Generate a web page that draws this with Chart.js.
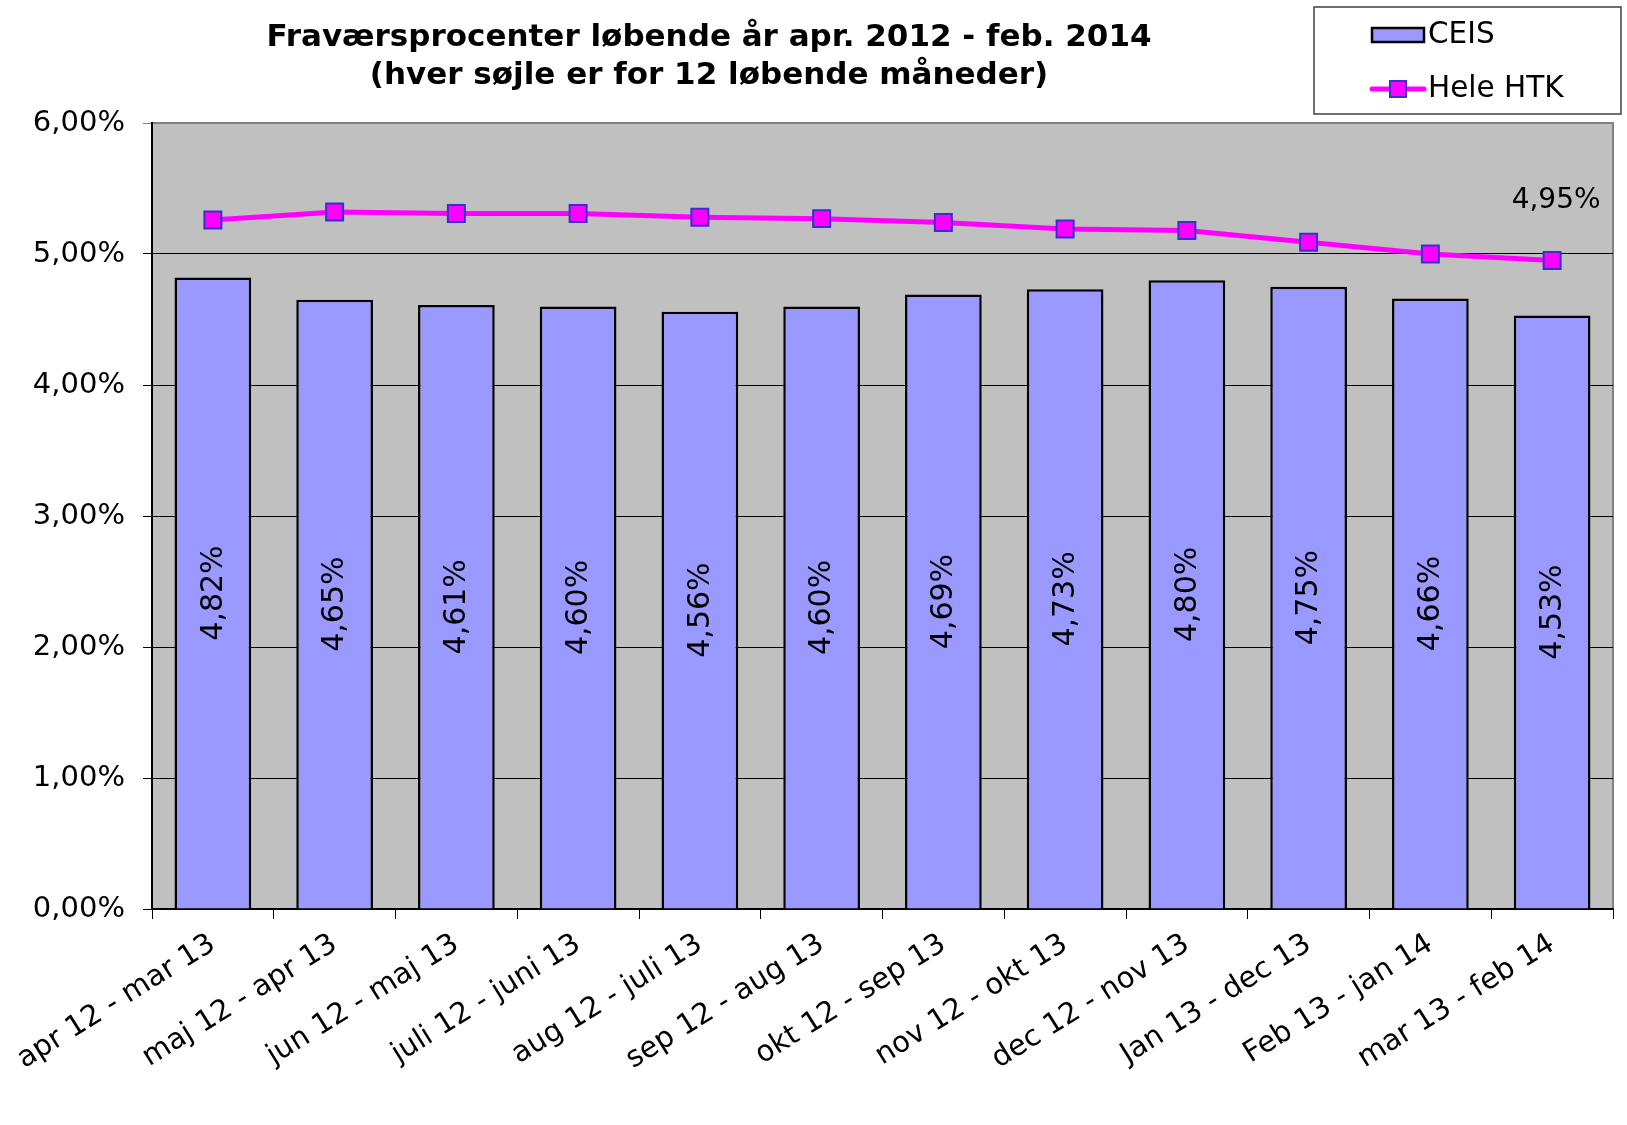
<!DOCTYPE html>
<html>
<head>
<meta charset="utf-8">
<script src="https://cdn.jsdelivr.net/npm/chart.js@4.4.1/dist/chart.umd.min.js"></script>
<style>
  html, body { margin: 0; padding: 0; background: #fff; }
  #wrap { width: 1627px; height: 1125px; }
</style>
</head>
<body>
<div id="wrap"><canvas id="chart" width="1627" height="1125"></canvas></div>
<script>
const periods = ['apr 12 - mar 13', 'maj 12 - apr 13', 'jun 12 - maj 13', 'juli 12 - juni 13',
  'aug 12 - juli 13', 'sep 12 - aug 13', 'okt 12 - sep 13', 'nov 12 - okt 13',
  'dec 12 - nov 13', 'Jan 13 - dec 13', 'Feb 13 - jan 14', 'mar 13 - feb 14'];
const ceis = [4.82, 4.65, 4.61, 4.60, 4.56, 4.60, 4.69, 4.73, 4.80, 4.75, 4.66, 4.53];
const heleHtk = [5.26, 5.32, 5.31, 5.31, 5.28, 5.27, 5.24, 5.19, 5.18, 5.09, 5.00, 4.95];
const titleLines = ['Fraværsprocenter løbende år apr. 2012 - feb. 2014', '(hver søjle er for 12 løbende måneder)'];
const FONT = '"DejaVu Sans", Verdana, sans-serif';

function pct(v) {
  return v.toFixed(2).replace('.', ',') + '%';
}

// grey plot area and frame
const plotBg = {
  id: 'plotBg',
  beforeDraw(chart) {
    const a = chart.chartArea, c = chart.ctx;
    c.save();
    c.fillStyle = '#c0c0c0';
    c.fillRect(a.left, a.top, a.right - a.left, a.bottom - a.top);
    c.strokeStyle = '#808080';
    c.lineWidth = 2;
    c.strokeRect(a.left, a.top, a.right - a.left, a.bottom - a.top);
    c.restore();
  }
};

// value labels, title and legend box
const extras = {
  id: 'extras',
  afterDatasetsDraw(chart) {
    const c = chart.ctx;
    c.save();
    c.fillStyle = '#000';
    c.font = '30px ' + FONT;
    c.textAlign = 'center';
    c.textBaseline = 'middle';
    chart.getDatasetMeta(0).data.forEach((bar, i) => {
      c.save();
      c.translate(bar.x + 1, (bar.y + bar.base) / 2);
      c.rotate(-Math.PI / 2);
      c.fillText(pct(ceis[i]), 0, 0);
      c.restore();
    });
    const pts = chart.getDatasetMeta(1).data;
    const last = pts[pts.length - 1];
    c.font = '28px ' + FONT;
    c.fillText(pct(heleHtk[heleHtk.length - 1]), last.x + 4, last.y - 60);
    c.restore();
  },
  afterDraw(chart) {
    const c = chart.ctx;
    c.save();
    c.fillStyle = '#000';
    c.font = 'bold 31px ' + FONT;
    c.textAlign = 'center';
    c.textBaseline = 'middle';
    c.fillText(titleLines[0], 709, 38);
    c.fillText(titleLines[1], 709, 76);

    // legend
    c.fillStyle = '#fff';
    c.fillRect(1314, 7, 307, 107);
    c.strokeStyle = '#404040';
    c.lineWidth = 1.5;
    c.strokeRect(1314, 7, 307, 107);
    c.fillStyle = '#9999ff';
    c.fillRect(1372, 28, 52, 14);
    c.strokeStyle = '#000';
    c.lineWidth = 2.5;
    c.strokeRect(1372, 28, 52, 14);
    c.strokeStyle = '#ff00ff';
    c.lineWidth = 5;
    c.lineCap = 'round';
    c.beginPath();
    c.moveTo(1372, 89);
    c.lineTo(1424, 89);
    c.stroke();
    c.fillStyle = '#ff00ff';
    c.fillRect(1390, 81, 16, 16);
    c.strokeStyle = '#3333cc';
    c.lineWidth = 2;
    c.strokeRect(1390, 81, 16, 16);
    c.fillStyle = '#000';
    c.font = '29.5px ' + FONT;
    c.textAlign = 'left';
    c.fillText('CEIS', 1428, 35);
    c.fillText('Hele HTK', 1428, 89);
    c.restore();
  }
};

new Chart(document.getElementById('chart'), {
  data: {
    labels: periods,
    datasets: [
      {
        type: 'bar',
        label: 'CEIS',
        data: ceis,
        backgroundColor: '#9999ff',
        borderColor: '#000',
        borderWidth: 2.5,
        barPercentage: 0.63,
        categoryPercentage: 1,
        order: 2
      },
      {
        type: 'line',
        label: 'Hele HTK',
        data: heleHtk,
        borderColor: '#ff00ff',
        borderWidth: 5,
        tension: 0,
        pointStyle: 'rect',
        pointRadius: 12,
        pointBackgroundColor: '#ff00ff',
        pointBorderColor: '#3333cc',
        pointBorderWidth: 2,
        order: 1
      }
    ]
  },
  options: {
    responsive: false,
    animation: false,
    layout: { padding: { top: 123, right: 5, left: 0, bottom: 0 } },
    plugins: {
      legend: { display: false },
      title: { display: false },
      tooltip: { enabled: false }
    },
    scales: {
      x: {
        offset: true,
        afterFit(s) { s.height = 216; },
        grid: { offset: true, drawOnChartArea: false, drawTicks: true, tickLength: 10, color: '#000' },
        border: { color: '#000', width: 2 },
        ticks: {
          color: '#000',
          font: { family: FONT, size: 29 },
          minRotation: 32,
          maxRotation: 32,
          padding: 8,
          autoSkip: false
        }
      },
      y: {
        min: 0,
        max: 6,
        afterFit(s) { s.width = 152; },
        grid: {
          color: (ctx) => (ctx.tick && ctx.tick.value === 6 ? '#808080' : '#000'),
          lineWidth: 1,
          tickLength: 9
        },
        border: { color: '#000', width: 2 },
        ticks: {
          stepSize: 1,
          color: '#000',
          padding: 18,
          font: { family: FONT, size: 29 },
          callback: (v) => pct(v)
        }
      }
    }
  },
  plugins: [plotBg, extras]
});
</script>
</body>
</html>
